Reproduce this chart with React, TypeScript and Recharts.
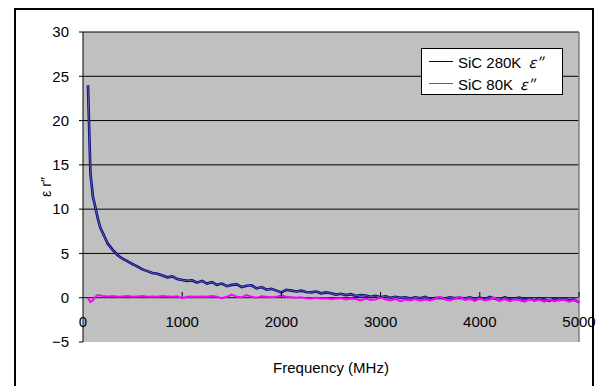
import React from "react";
import { LineChart, Line, XAxis, YAxis, CartesianGrid, ReferenceLine } from "recharts";

const freq = [
  50, 75, 100, 125, 150, 175, 200,
  250, 300, 350, 400, 450, 500, 550, 600, 650, 700, 750, 800, 850, 900, 950, 1000,
  1050, 1100, 1150, 1200, 1250, 1300, 1350, 1400, 1450, 1500, 1550, 1600, 1650, 1700, 1750, 1800, 1850, 1900, 1950, 2000,
  2050, 2100, 2150, 2200, 2250, 2300, 2350, 2400, 2450, 2500, 2550, 2600, 2650, 2700, 2750, 2800, 2850, 2900, 2950, 3000,
  3050, 3100, 3150, 3200, 3250, 3300, 3350, 3400, 3450, 3500, 3550, 3600, 3650, 3700, 3750, 3800, 3850, 3900, 3950, 4000,
  4050, 4100, 4150, 4200, 4250, 4300, 4350, 4400, 4450, 4500, 4550, 4600, 4650, 4700, 4750, 4800, 4850, 4900, 4950, 5000,
];

const sic280K = [
  24.0, 14.0, 11.4, 10.2, 8.9, 7.9, 7.3,
  6.1, 5.4, 4.8, 4.4, 4.1, 3.8, 3.5, 3.2, 3.0, 2.8, 2.7, 2.5, 2.3, 2.4, 2.1, 2.0,
  1.9, 1.95, 1.7, 1.9, 1.6, 1.75, 1.45, 1.6, 1.3, 1.45, 1.5, 1.2, 1.35, 1.4, 1.05, 1.2, 0.9, 1.0, 0.8, 0.6,
  0.9, 0.8, 0.7, 0.8, 0.65, 0.6, 0.7, 0.5, 0.6, 0.5, 0.35, 0.45, 0.3, 0.4, 0.2, 0.3, 0.25, 0.1, 0.2, 0.05,
  0.15, 0.0, 0.1, 0.0, 0.05, -0.1, 0.05, -0.05, 0.1, -0.2, -0.05, 0.0, -0.1, 0.05, -0.05, 0.0, -0.1, 0.05, -0.15, 0.0,
  -0.2, 0.1, -0.1, -0.3, 0.05, -0.15, -0.1, 0.0, -0.2, -0.1, -0.3, -0.05, -0.2, -0.35, -0.1, -0.25, -0.15, -0.3, -0.2, -0.5,
];

const sic80K = [
  0.0, -0.5, -0.3, 0.1, 0.3, 0.25, 0.2,
  0.15, 0.2, 0.1, 0.15, 0.2, 0.1, 0.15, 0.2, 0.1, 0.15, 0.1, 0.2, 0.15, 0.1, 0.15, -0.05,
  0.1, 0.15, 0.1, 0.15, 0.1, 0.2, 0.1, -0.05, 0.1, 0.35, 0.1, 0.05, 0.3, 0.1, 0.0, 0.15, 0.1, 0.05, 0.1, 0.3,
  0.1, 0.05, 0.0, 0.05, -0.05, -0.1, 0.0, -0.1, -0.05, -0.15, -0.1, -0.05, -0.2, -0.1, -0.15, -0.3, -0.1, -0.25, -0.2, 0.05,
  -0.2, -0.3, -0.15, -0.4, -0.2, -0.3, -0.15, -0.35, -0.2, -0.3, -0.1, 0.1, -0.2, -0.3, -0.1, 0.1, -0.25, -0.15, -0.35, -0.1,
  -0.3, -0.2, 0.0, -0.35, -0.15, -0.4, -0.2, -0.3, -0.45, -0.2, -0.35, -0.25, -0.45, -0.2, -0.4, -0.3, -0.2, -0.45, -0.3, -0.4,
];

const xTicks = [0, 1000, 2000, 3000, 4000, 5000];
const yTicks = [-5, 0, 5, 10, 15, 20, 25, 30];
const gridValues = [5, 10, 15, 20, 25, 30];

const series = [
  { key: "s280", label: "SiC 280K", color: "#000080" },
  { key: "s80", label: "SiC 80K", color: "#ff00ff" },
];
const xTitle = "Frequency (MHz)";
const yTitle = "\u03b5 r\u2033";

const data = freq.map((f, i) => ({ freq: f, s280: sic280K[i], s80: sic80K[i] }));

const FONT = "'Liberation Sans', Arial, sans-serif";
const CJK = "'Noto Sans CJK JP', sans-serif";

const XTick = (props: any) => {
  const { x, y, payload } = props;
  const zeroY = y - 45;
  return (
    <g>
      {payload.value !== 0 && (
        <line x1={x} x2={x} y1={zeroY - 5} y2={zeroY} stroke="#000" strokeWidth={1} />
      )}
      <text x={x} y={y - 20} dy="0.36em" textAnchor="middle" fontSize={15} fontFamily={FONT} fill="#000">
        {payload.value}
      </text>
    </g>
  );
};

const YLabel = (props: any) => {
  const { viewBox } = props;
  const cx = 46;
  const cy = viewBox.y + viewBox.height / 2;
  return (
    <text
      x={cx}
      y={cy}
      transform={`rotate(-90 ${cx} ${cy})`}
      textAnchor="middle"
      dominantBaseline="central"
      fontSize={14}
      fontFamily={FONT}
      fill="#000"
    >
      {yTitle}
    </text>
  );
};

const LegendBox = () => (
  <div
    style={{
      position: "absolute",
      left: 421,
      top: 48,
      width: 140,
      height: 44,
      border: "1px solid #000",
      background: "#fff",
      boxSizing: "content-box",
      paddingTop: 1,
    }}
  >
    {series.map((s) => (
      <div key={s.key} style={{ display: "flex", alignItems: "center", height: 22 }}>
        <div style={{ width: 24, height: 1, background: s.color, marginLeft: 7, marginRight: 5 }} />
        <span style={{ fontFamily: FONT, fontSize: 15, color: "#000", whiteSpace: "nowrap" }}>
          {s.label}
          <span style={{ fontFamily: CJK, fontStyle: "italic", marginLeft: 7 }}>{"\u03b5\u2033"}</span>
        </span>
      </div>
    ))}
  </div>
);

export default function App() {
  return (
    <div style={{ position: "fixed", left: 0, top: 0, width: 599, height: 386, overflow: "hidden", background: "#fff" }}>
      <div
        style={{
          position: "absolute",
          left: 14,
          top: 8,
          width: 576,
          height: 420,
          border: "2px solid #000",
          boxSizing: "content-box",
        }}
      />
      <div style={{ position: "absolute", left: 0, top: 0 }}>
        <LineChart width={599} height={386} data={data} margin={{ top: 32, right: 20, bottom: 0, left: 0 }}>
          <CartesianGrid
            vertical={false}
            horizontalValues={gridValues}
            stroke="#000"
            strokeOpacity={1}
            fill="#c0c0c0"
            fillOpacity={1}
          />
          <XAxis
            dataKey="freq"
            type="number"
            domain={[0, 5000]}
            ticks={xTicks}
            axisLine={false}
            tickLine={false}
            tickSize={0}
            tickMargin={0}
            height={44}
            tick={<XTick />}
            interval={0}
            label={{ value: xTitle, position: "insideBottom", offset: 13, fontSize: 15, fontFamily: FONT, fill: "#000" }}
          />
          <YAxis
            type="number"
            domain={[-5, 30]}
            ticks={yTicks}
            width={83}
            interval={0}
            axisLine={{ stroke: "#000", strokeWidth: 1 }}
            tickLine={{ stroke: "#000", strokeWidth: 1 }}
            tickSize={4}
            tickMargin={10}
            tick={{ fontSize: 15, fontFamily: FONT, fill: "#000" }}
            tickFormatter={(v: number) => (v < 0 ? "\u2212" + Math.abs(v) : String(v))}
            label={<YLabel />}
          />
          <ReferenceLine y={0} stroke="#000" strokeWidth={1} />
          <ReferenceLine x={5000} stroke="#808080" strokeWidth={1.5} />
          <Line
            name={series[0].label}
            dataKey="s280"
            stroke={series[0].color}
            strokeWidth={2.6}
            dot={false}
            isAnimationActive={false}
          />
          <Line
            name="overlay"
            dataKey="s280"
            stroke="#8a8ab0"
            strokeWidth={0.7}
            dot={false}
            legendType="none"
            isAnimationActive={false}
          />
          <Line
            name={series[1].label}
            dataKey="s80"
            stroke={series[1].color}
            strokeWidth={2}
            dot={false}
            isAnimationActive={false}
          />
        </LineChart>
      </div>
      <LegendBox />
    </div>
  );
}
